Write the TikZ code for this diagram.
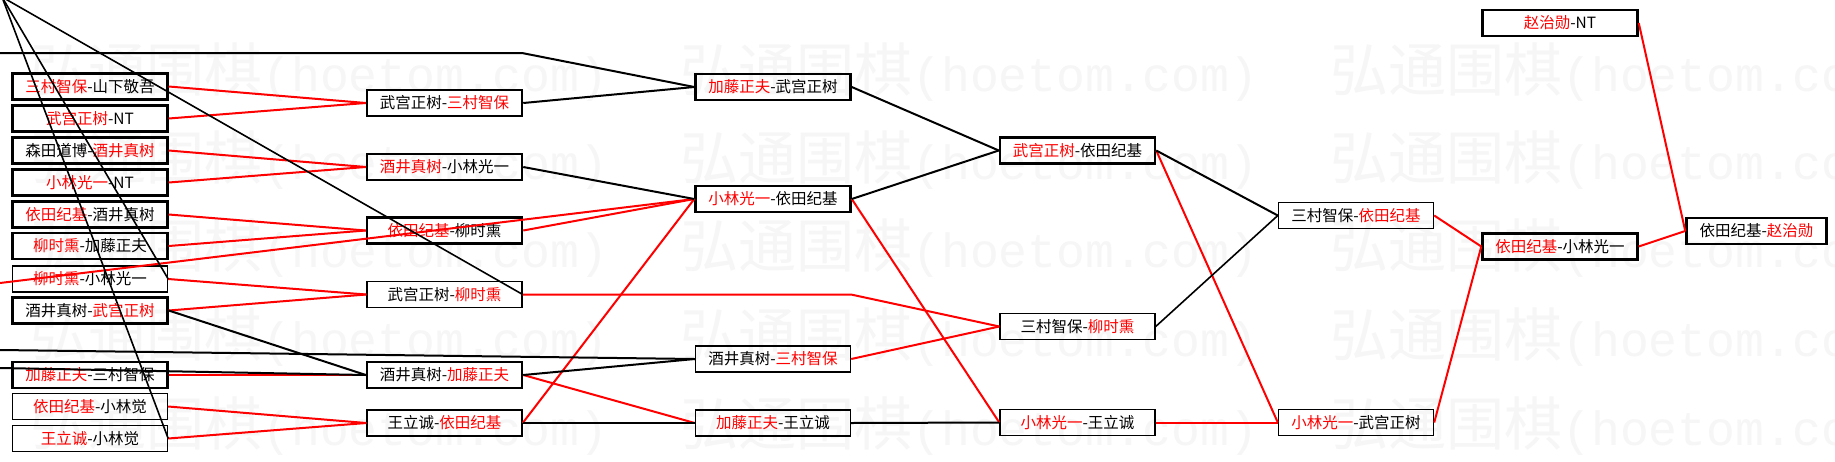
\documentclass[tikz,border=0pt]{standalone}
\usepackage{fontspec}
\setmainfont{Noto Sans CJK SC}
\newfontfamily\wmlat{Liberation Mono}
\newcommand{\rn}[1]{\textcolor{red}{#1}}
\begin{document}
\begin{tikzpicture}[x=0.5pt,y=-0.5pt,
  bx/.style={draw=black, line width=1.25pt, rectangle, minimum width=77.5pt,
    minimum height=13pt, inner sep=0pt, font=\fontsize{7.75pt}{9pt}\selectfont},
  bxthin/.style={bx, line width=0.7pt},
  bxlast/.style={bx, minimum width=70pt},
  bk/.style={draw=black, line width=1pt},
  rd/.style={draw=red, line width=1pt},
  bkthin/.style={draw=black, line width=0.8pt},
  wm/.style={text=black!3.5, anchor=west, inner sep=0pt,
    font=\fontsize{29pt}{30pt}\selectfont}
]
\useasboundingbox (0,0) rectangle (1835,461);
\fill[white] (0,0) rectangle (1835,461);

% faint watermark
\foreach \yy in {72,160,248,337,426}{
  \foreach \xx in {30,680,1330}{
    \node[wm] (w\yy-\xx) at (\xx,\yy) {弘通围棋{\wmlat\fontsize{24pt}{25pt}\selectfont (hoetom.com)}};
  }
}

% column 1
\node[bx] (a1) at (90,86.5) {\rn{三村智保}-山下敬吾};
\node[bx] (a2) at (90,118.5) {\rn{武宫正树}-NT};
\node[bx] (a3) at (90,150.5) {森田道博-\rn{酒井真树}};
\node[bx] (a4) at (90,182.5) {\rn{小林光一}-NT};
\node[bx] (a5) at (90,214.5) {\rn{依田纪基}-酒井真树};
\node[bx] (a6) at (90,246) {\rn{柳时熏}-加藤正夫};
\node[bxthin] (a7) at (90,279) {\rn{柳时熏}-小林光一};
\node[bx] (a8) at (90,310.5) {酒井真树-\rn{武宫正树}};
\node[bx] (a9) at (90,375) {\rn{加藤正夫}-三村智保};
\node[bxthin] (a10) at (90,406.5) {\rn{依田纪基}-小林觉};
\node[bxthin] (a11) at (90,438.5) {\rn{王立诚}-小林觉};

% column 2
\node[bx] (b1) at (444.5,103) {武宫正树-\rn{三村智保}};
\node[bx] (b2) at (444.5,167) {\rn{酒井真树}-小林光一};
\node[bx] (b3) at (444.5,230.5) {\rn{依田纪基}-柳时熏};
\node[bxthin] (b4) at (444.5,294.5) {武宫正树-\rn{柳时熏}};
\node[bx] (b5) at (444.5,375) {酒井真树-\rn{加藤正夫}};
\node[bxthin] (b6) at (444.5,423) {王立诚-\rn{依田纪基}};

% column 3
\node[bx] (c1) at (773,87) {\rn{加藤正夫}-武宫正树};
\node[bx] (c2) at (773,199) {\rn{小林光一}-依田纪基};
\node[bxthin] (c3) at (773,359) {酒井真树-\rn{三村智保}};
\node[bxthin] (c4) at (773,423) {\rn{加藤正夫}-王立诚};

% column 4
\node[bx] (d1) at (1077.5,150.5) {\rn{武宫正树}-依田纪基};
\node[bxthin] (d2) at (1077.5,326.5) {三村智保-\rn{柳时熏}};
\node[bxthin] (d3) at (1077.5,422.5) {\rn{小林光一}-王立诚};

% column 5
\node[bxthin] (e1) at (1356,215.5) {三村智保-\rn{依田纪基}};
\node[bxthin] (e2) at (1356,422.5) {\rn{小林光一}-武宫正树};

% column 6
\node[bx] (f1) at (1560,23) {\rn{赵治勋}-NT};
\node[bx] (f2) at (1560,246.5) {\rn{依田纪基}-小林光一};

% column 7
\node[bxlast] (g1) at (1756.5,231) {依田纪基-\rn{赵治勋}};

% free ends
\coordinate (o) at (2,-3);
\coordinate (l1) at (0,53);
\coordinate (k1) at (522,53);
\coordinate (l2) at (0,283);
\coordinate (l3) at (0,350);
\coordinate (l4) at (0,368);
\coordinate (k2) at (851,294.5);

% red connectors
\draw[rd] (a1.east) -- (b1.west);
\draw[rd] (a2.east) -- (b1.west);
\draw[rd] (a3.east) -- (b2.west);
\draw[rd] (a4.east) -- (b2.west);
\draw[rd] (a5.east) -- (b3.west);
\draw[rd] (a6.east) -- (b3.west);
\draw[rd] (a7.east) -- (b4.west);
\draw[rd] (a8.east) -- (b4.west);
\draw[rd] (a9.east) -- (b5.west);
\draw[rd] (a10.east) -- (b6.west);
\draw[rd] (a11.east) -- (b6.west);
\draw[rd] (l2) -- (c2.west);
\draw[rd] (b3.east) -- (c2.west);
\draw[rd] (b6.east) -- (c2.west);
\draw[rd] (b4.east) -- (k2) -- (d2.west);
\draw[rd] (b5.east) -- (c4.west);
\draw[rd] (c2.east) -- (d3.west);
\draw[rd] (c3.east) -- (d2.west);
\draw[rd] (d1.east) -- (e2.west);
\draw[rd] (d3.east) -- (e2.west);
\draw[rd] (e1.east) -- (f2.west);
\draw[rd] (e2.east) -- (f2.west);
\draw[rd] (f2.east) -- (g1.west);
\draw[rd] (f1.east) -- (g1.west);

% black connectors
\draw[bk] (l1) -- (k1) -- (c1.west);
\draw[bk] (b1.east) -- (c1.west);
\draw[bk] (b2.east) -- (c2.west);
\draw[bk] (a8.east) -- (b5.west);
\draw[bk] (l4) -- (b5.west);
\draw[bk] (l3) -- (c3.west);
\draw[bk] (b5.east) -- (c3.west);
\draw[bk] (b6.east) -- (c4.west);
\draw[bk] (c1.east) -- (d1.west);
\draw[bk] (c2.east) -- (d1.west);
\draw[bk] (c4.east) -- (d3.west);
\draw[bk] (d1.east) -- (e1.west);
\draw[bkthin] (d2.east) -- (e1.west);

% lines from outside the picture
\draw[bkthin] (o) -- (a7.east);
\draw[bkthin] (o) -- (a11.east);
\draw[bkthin] (o) -- (b4.east);
\end{tikzpicture}
\end{document}
